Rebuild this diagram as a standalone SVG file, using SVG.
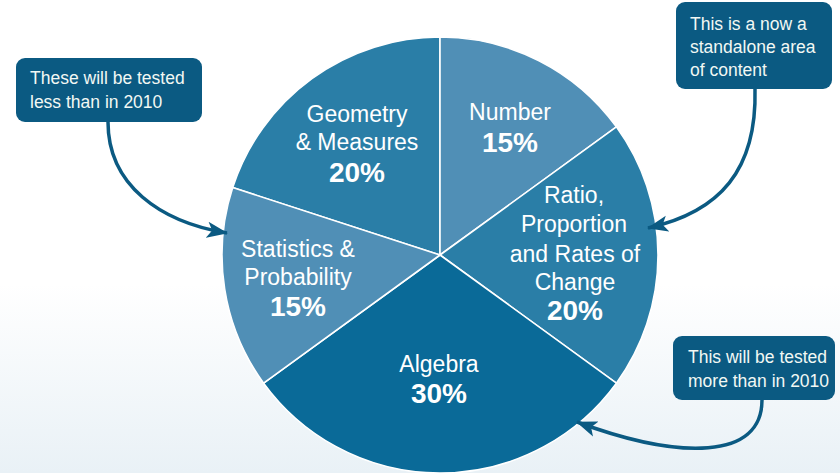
<svg xmlns="http://www.w3.org/2000/svg" width="840" height="473" viewBox="0 0 840 473">
  <defs>
    <linearGradient id="bg" x1="0" y1="0" x2="0" y2="1">
      <stop offset="0" stop-color="#ffffff"/>
      <stop offset="0.6" stop-color="#ffffff"/>
      <stop offset="1" stop-color="#e9f1f6"/>
    </linearGradient>
    <marker id="ah" markerUnits="userSpaceOnUse" markerWidth="24" markerHeight="20" refX="20" refY="10" orient="auto">
      <path d="M0,2 L21,10 L0,18 L5,10 Z" fill="#0b5a82"/>
    </marker>
    <style>
      .slice { stroke: #ffffff; stroke-width: 1.6; }
      .light { fill: #508fb6; }
      .mid { fill: #2a7ea7; }
      .dark { fill: #0a6a98; }
      .lbl { font-family: "Liberation Sans", Arial, sans-serif; font-size: 23px; fill: #ffffff; text-anchor: middle; }
      .pct { font-family: "Liberation Sans", Arial, sans-serif; font-size: 28px; font-weight: bold; fill: #ffffff; text-anchor: middle; }
      .box { fill: #0b5a82; }
      .note { font-family: "Liberation Sans", Arial, sans-serif; font-size: 17.5px; fill: #f2f8f4; }
      .conn { fill: none; stroke: #0b5a82; stroke-width: 3.5; marker-end: url(#ah); }
    </style>
  </defs>
  <rect width="840" height="473" fill="url(#bg)"/>

  <g id="geometry">
    <path class="slice mid" d="M440,255 L232.7,187.6 A218,218 0 0 1 440,37 Z"/>
    <text class="lbl" x="357" y="122">Geometry</text>
    <text class="lbl" x="357" y="150">&amp; Measures</text>
    <text class="pct" x="357" y="182">20%</text>
  </g>
  <g id="number">
    <path class="slice light" d="M440,255 L440,37 A218,218 0 0 1 616.4,126.9 Z"/>
    <text class="lbl" x="510" y="120">Number</text>
    <text class="pct" x="510" y="152">15%</text>
  </g>
  <g id="ratio">
    <path class="slice mid" d="M440,255 L616.4,126.9 A218,218 0 0 1 616.4,383.1 Z"/>
    <text class="lbl" x="574" y="203">Ratio,</text>
    <text class="lbl" x="574" y="232">Proportion</text>
    <text class="lbl" x="575" y="262">and Rates of</text>
    <text class="lbl" x="575" y="290">Change</text>
    <text class="pct" x="575" y="320">20%</text>
  </g>
  <g id="algebra">
    <path class="slice dark" d="M440,255 L616.4,383.1 A218,218 0 0 1 263.6,383.1 Z"/>
    <text class="lbl" x="439" y="372">Algebra</text>
    <text class="pct" x="439" y="403">30%</text>
  </g>
  <g id="statistics">
    <path class="slice light" d="M440,255 L263.6,383.1 A218,218 0 0 1 232.7,187.6 Z"/>
    <text class="lbl" x="298" y="257">Statistics &amp;</text>
    <text class="lbl" x="298" y="285">Probability</text>
    <text class="pct" x="298" y="316">15%</text>
  </g>

  <g id="note-less">
    <rect class="box" x="16" y="58" width="186" height="64" rx="9"/>
    <text class="note" x="30" y="84">These will be tested</text>
    <text class="note" x="30" y="108">less than in 2010</text>
  </g>
  <g id="note-standalone">
    <rect class="box" x="676" y="2" width="156" height="87" rx="9"/>
    <text class="note" x="690" y="30">This is a now a</text>
    <text class="note" x="690" y="53">standalone area</text>
    <text class="note" x="690" y="76">of content</text>
  </g>
  <g id="note-more">
    <rect class="box" x="673" y="336" width="162" height="64" rx="9"/>
    <text class="note" x="688" y="363">This will be tested</text>
    <text class="note" x="688" y="387">more than in 2010</text>
  </g>

  <g id="connectors">
    <path class="conn" d="M108,122 C108,185 160,222 227,233"/>
    <path class="conn" d="M755,89 C757,170 720,212 648,228"/>
    <path class="conn" d="M762,400 C762,460 680,460 577,422"/>
  </g>
</svg>
